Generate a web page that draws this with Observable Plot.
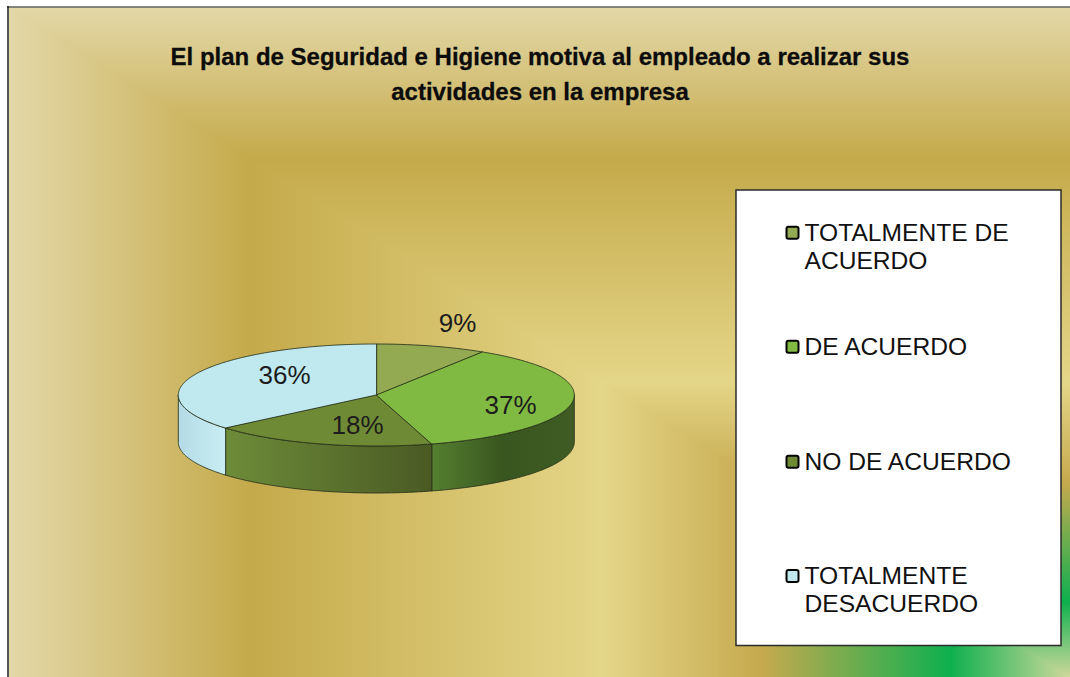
<!DOCTYPE html>
<html>
<head>
<meta charset="utf-8">
<script src="https://cdn.jsdelivr.net/npm/d3@7"></script>
<script src="https://cdn.jsdelivr.net/npm/@observablehq/plot@0.6"></script>
<style>
html,body{margin:0;padding:0;background:#fff;overflow:hidden}
svg{display:block}
</style>
</head>
<body>
<div id="chart"></div>
<script>
// Data
const titleLines = "El plan de Seguridad e Higiene motiva al empleado a realizar sus\nactividades en la empresa";
const categories = ["TOTALMENTE DE\nACUERDO", "DE ACUERDO", "NO DE ACUERDO", "TOTALMENTE\nDESACUERDO"];
const shares = [9, 36.5, 18.3, 36.2];
const topColors = ["#93a952", "#80ba42", "#6f8a35", "#bfe9ef"];
const wallStops = [
  ["#7f9645", "#566a2a"],
  ["#557f30", "#38561f", "#3e5c23"],
  ["#6d8c39", "#4a5a24"],
  ["#b4dbe6", "#c8eef2"]
];

// Layout
const W = 1070, H = 677;
const pie = {cx: 375.8, cy: 394.5, rx: 198, ry: 51, depth: 47};
const labelX = [457, 510, 357, 284];
const labelY = [323, 405, 425, 375];
const legendBox = {x1: 736, x2: 1061, y1: 190, y2: 645.5};
const legendY = [232.7, 346.7, 461.7, 576];

// Background: rectangular gradient centred on the lower right corner
const bgStops = [0, 0.113, 0.29, 0.44, 0.772, 1];
const bgColors = ["#d0d99c", "#0fb04f", "#c6a94e", "#e4d688", "#c5aa4b", "#e3d8a8"];
const bgT = (x, y) => Math.max((W - x) / 1062, (H - y) / 671);

// Geometry computed from the shares
const total = d3.sum(shares);
let acc = 0;
const wedges = shares.map((v, i) => {
  const a0 = acc / total * 2 * Math.PI;
  acc += v;
  return {i, a0, a1: acc / total * 2 * Math.PI};
});
const px = a => pie.cx + pie.rx * Math.sin(a);
const py = a => pie.cy - pie.ry * Math.cos(a);
const arc = (a0, a1) => {
  const n = Math.max(2, Math.ceil((a1 - a0) / 0.01));
  return d3.range(n + 1).map(k => a0 + (a1 - a0) * k / n);
};
const topFace = w => [{x: pie.cx, y: pie.cy}, ...arc(w.a0, w.a1).map(a => ({x: px(a), y: py(a)}))];
const wallFace = w => {
  const a0 = Math.max(w.a0, Math.PI / 2), a1 = Math.min(w.a1, 3 * Math.PI / 2);
  if (a1 <= a0) return null;
  const as = arc(a0, a1);
  return [...as.map(a => ({x: px(a), y: py(a)})),
          ...as.slice().reverse().map(a => ({x: px(a), y: py(a) + pie.depth}))];
};

const gradients = () => {
  const defs = d3.create("svg:defs");
  wallStops.forEach((stops, i) => {
    const g = defs.append("linearGradient").attr("id", `wall${i}`)
      .attr("x1", 0).attr("x2", 1).attr("y1", 0).attr("y2", 0);
    stops.forEach((c, k) => g.append("stop")
      .attr("offset", k / (stops.length - 1)).attr("stop-color", c));
  });
  return defs.node();
};

const edge = {stroke: "#26301a", strokeWidth: 1, strokeOpacity: 0.85, curve: "linear-closed"};
const font = "'Liberation Sans', Arial, sans-serif";

const chart = Plot.plot({
  width: W, height: H,
  margin: 0,
  x: {domain: [0, W], range: [0, W], axis: null},
  y: {domain: [0, H], range: [0, H], axis: null},
  color: {type: "linear", domain: bgStops, range: bgColors, legend: false},
  style: {background: "#fff", fontFamily: font},
  marks: [
    gradients,
    Plot.raster({x1: 8, y1: 7, x2: W, y2: H, fill: bgT, pixelSize: 1}),
    Plot.ruleX([7.5], {y1: 6, y2: H, stroke: "#555", strokeWidth: 2}),
    Plot.ruleY([6.5], {x1: 7, x2: W, stroke: "#111", strokeWidth: 1}),

    // title
    Plot.text([titleLines], {
      x: 539.5, y: 40, text: d => d, fontSize: 24, fontWeight: 700, fill: "#0c0c0c",
      stroke: "#0c0c0c", strokeWidth: 0.3,
      lineHeight: 1.45, lineAnchor: "top", textAnchor: "middle", fontFamily: font
    }),

    // pie walls, then top faces
    ...wedges.map(wallFace).map((pts, i) => pts && Plot.line(pts, {
      x: "x", y: "y", fill: `url(#wall${i})`, ...edge
    })).filter(Boolean),
    ...wedges.map((w, i) => Plot.line(topFace(w), {
      x: "x", y: "y", fill: topColors[i], ...edge
    })),

    // percentage labels
    Plot.text(shares, {
      x: (d, i) => labelX[i], y: (d, i) => labelY[i], text: d => `${Math.round(d)}%`,
      fontSize: 26, fill: "#1c1c1c", textAnchor: "middle", lineAnchor: "middle", fontFamily: font
    }),

    // legend
    Plot.rect([legendBox], {x1: "x1", x2: "x2", y1: "y1", y2: "y2", fill: "#fff", stroke: "#2b2b2b", strokeWidth: 1.5}),
    ...categories.map((c, i) => Plot.rect([c], {
      x1: () => 786.5, x2: () => 798.5, y1: () => legendY[i] - 6, y2: () => legendY[i] + 6,
      fill: topColors[i], stroke: "#000", strokeWidth: 2, rx: 2
    })),
    Plot.text(categories, {
      x: () => 804, y: (d, i) => legendY[i] - 12, text: d => d,
      fontSize: 24.6, fill: "#111", textAnchor: "start", lineAnchor: "top", lineHeight: 1.14, fontFamily: font
    })
  ]
});
document.getElementById("chart").appendChild(chart);
</script>
</body>
</html>
